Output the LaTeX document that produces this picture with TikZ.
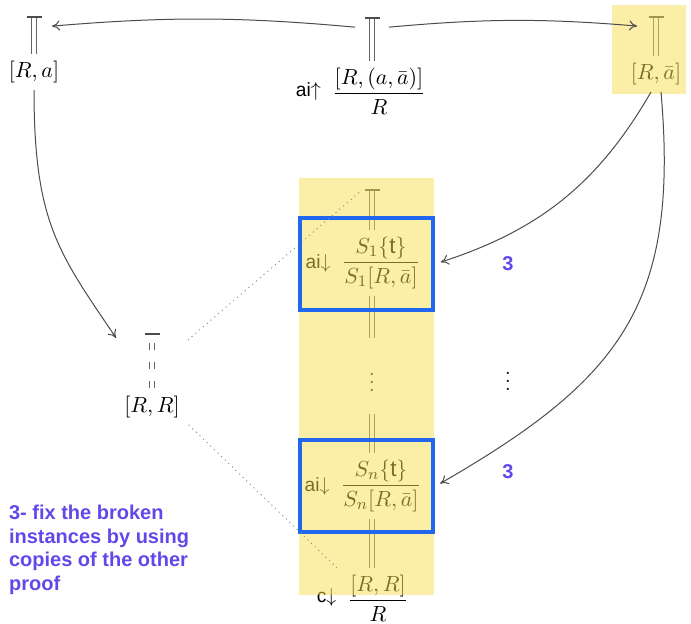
\documentclass[tikz,border=0pt]{standalone}
\usepackage{amsmath,amssymb}
\usepackage{fontspec}
\setsansfont{Liberation Sans}
\usetikzlibrary{arrows.meta,calc,positioning}
\definecolor{noteviolet}{RGB}{98,72,232}
\definecolor{boxblue}{RGB}{33,102,238}
\definecolor{hilite}{RGB}{247,221,77}

\begin{document}
\begin{tikzpicture}[x=0.5pt, y=0.5pt,
    every node/.style={font=\fontsize{11.2}{13.5}\selectfont},
    unitbar/.style={fill=black!70, minimum width=7.5pt, minimum height=0.8pt, inner sep=0pt},
    stem/.style={draw=black!60, line width=0.45pt, double=white, double distance=1.7pt},
    rulename/.style={font=\fontsize{9.6}{11}\selectfont, inner sep=2pt},
    arr/.style={draw=black!70, line width=0.5pt, -{To[length=4pt,width=5pt]}},
    dotline/.style={draw=black!45, line width=0.5pt, dotted},
    hl/.style={fill=hilite, fill opacity=0.5},
    bluebox/.style={draw=boxblue, line width=2pt, minimum width=66.5pt, minimum height=46pt, inner sep=0pt},
    notetext/.style={text=noteviolet, font=\sffamily\bfseries\fontsize{10}{11.8}\selectfont}]
  \useasboundingbox (0,0) rectangle (691,-624);

  % top row
  \node[unitbar] (lbar) at (34,-17) {};
  \node (ra) at (34,-72) {$[R,a]$};
  \node[unitbar] (mbar) at (372,-18) {};
  \node (mfrac) at (379,-91) {$\dfrac{[R,(a,\bar a)]}{R}$};
  \node[rulename, left=0pt of mfrac] (mlab) {\textsf{ai}$\uparrow$};
  \node[unitbar] (rbar) at (656,-17) {};
  \node (ran) at (656,-74) {$[R,\bar a]$};

  % left copy
  \node[unitbar] (rrbar) at (152,-334) {};
  \node (rr) at (152,-407) {$[R,R]$};

  % middle column
  \node[unitbar] (sbar) at (372,-190) {};
  \node (s1f) at (381,-263) {$\dfrac{S_1\{\textsf{t}\}}{S_1[R,\bar a]}$};
  \node[rulename, left=0pt of s1f] (s1lab) {\textsf{ai}$\downarrow$};
  \node[minimum height=37.5pt] (mvd) at (372,-376) {$\vdots$};
  \node (snf) at (381,-486) {$\dfrac{S_n\{\textsf{t}\}}{S_n[R,\bar a]}$};
  \node[rulename, left=0pt of snf] (snlab) {\textsf{ai}$\downarrow$};
  \node (cf) at (378,-598) {$\dfrac{[R,R]}{R}$};
  \node[rulename, left=0pt of cf] (clab) {\textsf{c}$\downarrow$};
  \node (rvd) at (508,-375) {$\vdots$};

  \draw[stem] (lbar) -- (ra);
  \draw[stem] (mbar) -- (mbar |- mfrac.north);
  \draw[stem] (rbar) -- (ran);
  \draw[stem, dash pattern=on 3.6pt off 5.9pt, shorten <=4pt] (rrbar) -- (rr);
  \draw[stem] (sbar) -- (sbar |- s1f.north);
  \draw[stem] (sbar |- s1f.south) -- (mvd);
  \draw[stem] (mvd) -- (sbar |- snf.north);
  \draw[stem] (sbar |- snf.south) -- (sbar |- cf.north);

  % highlights
  \fill[hl] (612,-5) rectangle (686,-94);
  \fill[hl] (299,-178) rectangle (434,-595);
  \node[bluebox] (s1) at (366.5,-264) {};
  \node[bluebox] (sn) at (366.5,-486.5) {};

  \draw[arr, bend right=5, shorten <=4.5pt, shorten >=5pt] ([yshift=-5pt]mbar.west) to ([yshift=-5pt]lbar.east);
  \draw[arr, bend left=5, shorten <=4.5pt, shorten >=5.5pt] ([yshift=-5pt]mbar.east) to ([yshift=-5pt]rbar.west);
  \draw[arr] (ra) to[out=-90, in=124, out looseness=1.3] ([xshift=-14pt,yshift=-2pt]rrbar.west);
  \draw[arr, shorten >=3pt] ([xshift=-2.5pt]ran.south) to[out=-120, in=18] (s1.east);
  \draw[arr, shorten >=3pt] ([xshift=2.5pt]ran.south) to[out=-85, in=30, looseness=1.2] (sn.east);
  \draw[dotline] ([xshift=14pt,yshift=-3pt]rrbar.east) -- ([xshift=-1pt]sbar.west);
  \draw[dotline] ([xshift=1pt]rr.south east) -- ([xshift=-2pt]cf.north west);

  \node[notetext] (n1) at (508,-264) {3};
  \node[notetext] (n2) at (508,-472) {3};
  \node[notetext, anchor=north west, align=left] (note) at (2,-498)
    {3- fix the broken\\instances by using\\copies of the other\\proof};
\end{tikzpicture}
\end{document}
